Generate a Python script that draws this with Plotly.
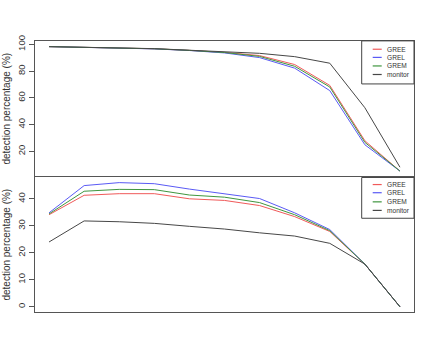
import plotly.graph_objects as go

steps = list(range(1, 12))
series_names = ["GREE", "GREL", "GREM", "monitor"]
series_colors = ["#f05a5a", "#5a5af5", "#3f963f", "#474747"]

# top panel values (%)
top_gree = [98.3, 97.8, 97.4, 96.7, 95.5, 94.0, 91.6, 84.9, 69.3, 27.9, 5.2]
top_grel = [98.3, 97.8, 97.4, 96.6, 95.4, 93.6, 90.1, 82.2, 65.4, 24.9, 5.2]
top_grem = [98.3, 97.8, 97.4, 96.7, 95.5, 93.9, 91.0, 83.6, 68.1, 26.7, 5.2]
top_monitor = [98.3, 97.8, 97.4, 96.8, 95.6, 94.3, 93.3, 90.8, 85.9, 52.6, 8.1]

# bottom panel values (%)
bot_gree = [34.1, 41.3, 41.9, 41.9, 40.0, 39.4, 37.5, 33.4, 27.9, 15.8, 0.0]
bot_grel = [34.8, 44.9, 46.0, 45.6, 43.6, 41.8, 40.1, 34.8, 28.6, 15.8, 0.0]
bot_grem = [34.4, 42.8, 43.5, 43.4, 41.4, 40.6, 38.6, 34.1, 28.2, 15.8, 0.0]
bot_monitor = [24.0, 31.8, 31.5, 30.9, 29.8, 28.8, 27.4, 26.2, 23.5, 15.8, 0.0]

top_ticks = [20, 40, 60, 80, 100]
bot_ticks = [0, 10, 20, 30, 40]

W, H = 433, 347
def px(x):
    return x / W
def py(y):
    return 1 - y / H

fig = go.Figure()
top = [top_gree, top_grel, top_grem, top_monitor]
bot = [bot_gree, bot_grel, bot_grem, bot_monitor]
for name, col, ys in zip(series_names, series_colors, top):
    fig.add_trace(go.Scatter(x=steps, y=ys, mode="lines", name=name,
                             line=dict(color=col, width=1), xaxis="x", yaxis="y",
                             showlegend=False))
for name, col, ys in zip(series_names, series_colors, bot):
    fig.add_trace(go.Scatter(x=steps, y=ys, mode="lines", name=name,
                             line=dict(color=col, width=1), xaxis="x2", yaxis="y2",
                             showlegend=False))

axcommon = dict(showline=True, mirror=True, linecolor="#555555", linewidth=1,
                showgrid=False, zeroline=False)
xl, xr = px(35), px(414)
fig.update_layout(
    width=W, height=H, margin=dict(l=0, r=0, t=0, b=0),
    paper_bgcolor="white", plot_bgcolor="white",
    font=dict(family="Liberation Sans, Arial, sans-serif", color="#222222"),
    xaxis=dict(domain=[xl, xr], range=[0.6, 11.4], showticklabels=False, ticks="",
               anchor="y", **axcommon),
    yaxis=dict(domain=[py(173.3), py(35.5)], range=[1.3, 102.6], tickvals=top_ticks,
               ticks="outside", ticklen=5, tickcolor="#555555", tickangle=-90,
               tickfont=dict(size=9.5, color="#333333"), anchor="x", **axcommon),
    xaxis2=dict(domain=[xl, xr], range=[0.6, 11.4], showticklabels=False, ticks="",
                anchor="y2", **axcommon),
    yaxis2=dict(domain=[py(311), py(174.5)], range=[-1.8, 47.9], tickvals=bot_ticks,
                ticks="outside", ticklen=5, tickcolor="#555555", tickangle=-90,
                tickfont=dict(size=9.5, color="#333333"), anchor="x2", **axcommon),
)

# axis titles
for yc in [(35.5 + 173.3) / 2, (174.5 + 311) / 2]:
    fig.add_annotation(text="detection percentage (%)", xref="paper", yref="paper",
                       x=px(7), y=py(yc), xanchor="center", yanchor="middle",
                       textangle=-90, showarrow=False,
                       font=dict(size=10, color="#333333"))

# manual legends
legends = [(35.5, 79.3, [44, 52.3, 61, 69.7]), (174.5, 216, [181.7, 190, 199.3, 208])]
for top_y, bot_y, rows in legends:
    fig.add_shape(type="rect", xref="paper", yref="paper",
                  x0=px(361.7), x1=xr, y0=py(bot_y), y1=py(top_y),
                  line=dict(color="#444444", width=1), fillcolor="white", layer="above")
    for name, col, ry in zip(series_names, series_colors, rows):
        fig.add_shape(type="line", xref="paper", yref="paper",
                      x0=px(372.7), x1=px(381.7), y0=py(ry), y1=py(ry),
                      line=dict(color=col, width=1.2), layer="above")
        fig.add_annotation(text=name, xref="paper", yref="paper",
                           x=px(386.3), y=py(ry), xanchor="left", yanchor="middle",
                           showarrow=False, borderpad=0,
                           font=dict(size=6.6, color="#333333"))

fig.write_html("out.html", config={"displayModeBar": False},
               post_script="document.body.style.margin='0';document.body.style.overflow='hidden';")
